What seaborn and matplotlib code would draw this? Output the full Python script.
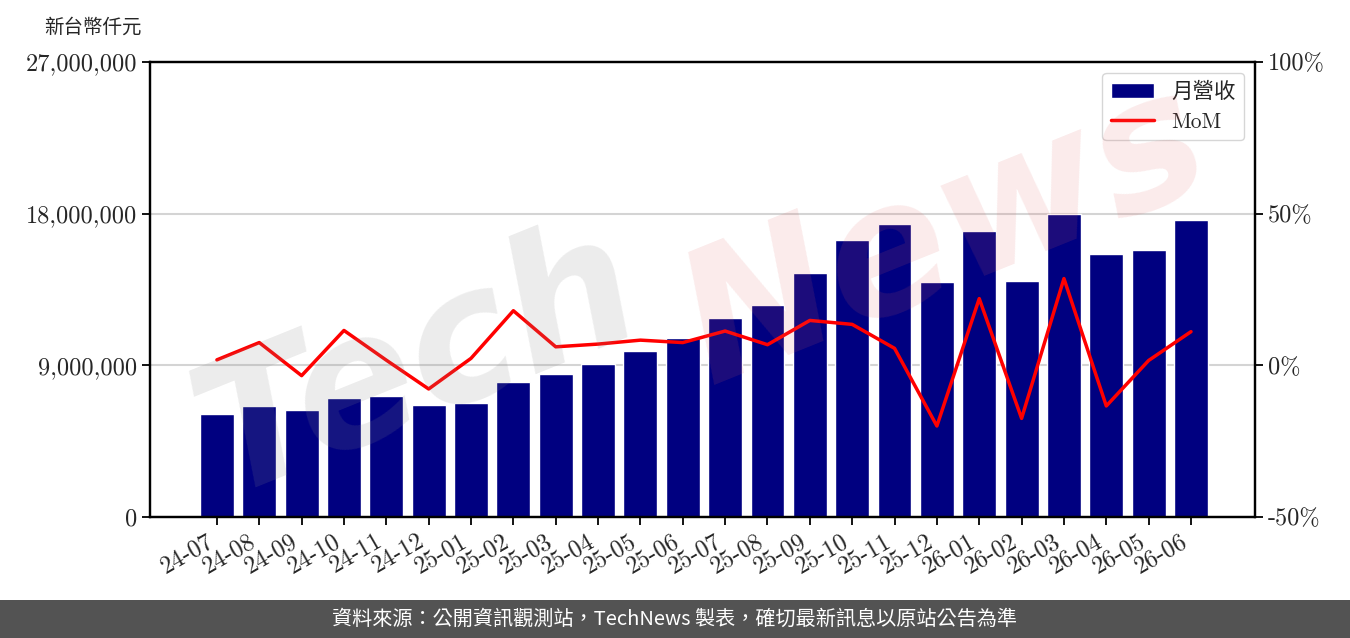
import numpy as np
import pandas as pd
import matplotlib
matplotlib.use("Agg")
import matplotlib.pyplot as plt
from matplotlib.patches import Rectangle
from matplotlib.ticker import FuncFormatter
import seaborn as sns

# data
months = ["24-07", "24-08", "24-09", "24-10", "24-11", "24-12",
          "25-01", "25-02", "25-03", "25-04", "25-05", "25-06",
          "25-07", "25-08", "25-09", "25-10", "25-11", "25-12",
          "26-01", "26-02", "26-03", "26-04", "26-05", "26-06"]
revenue = [6110000, 6590000, 6350000, 7060000, 7180000, 6650000,
           6760000, 8010000, 8490000, 9080000, 9850000, 10620000,
           11810000, 12580000, 14480000, 16440000, 17390000, 13950000,
           16970000, 14000000, 17980000, 15610000, 15840000, 17620000]
mom = [1.8, 7.5, -3.4, 11.5, 1.7, -7.8,
       2.3, 18.0, 6.1, 7.0, 8.3, 7.5,
       11.3, 6.8, 14.8, 13.5, 5.6, -20.0,
       22.0, -17.5, 28.6, -13.4, 1.6, 11.1]

df = pd.DataFrame({"month": months, "revenue": revenue, "mom": mom})
df["idx"] = np.arange(len(df))

sns.set_style("white")
plt.rcParams["font.family"] = ["cmr10", "Noto Sans CJK TC"]
plt.rcParams["axes.unicode_minus"] = False
plt.rcParams["axes.formatter.use_mathtext"] = True

fig = plt.figure(figsize=(13.5, 6.38), dpi=100)
ax = fig.add_axes([0.1111, 0.1897, 0.8185, 0.7131])

sns.barplot(data=df, x="month", y="revenue", color="#000080", saturation=1,
            width=0.8, label="月營收", ax=ax, zorder=2)
ax.set_xlim(-1.58, 24.51)
ax.set_ylim(0, 27000000)
ax.set_yticks([0, 9000000, 18000000, 27000000])
ax.yaxis.set_major_formatter(FuncFormatter(lambda v, p: f"{int(v):,}"))
ax.grid(axis="y", color="#d4d4d4", linewidth=1.5, zorder=0)
ax.set_axisbelow(True)
ax.set_xlabel("")
ax.set_ylabel("")
ax.tick_params(axis="both", labelsize=17.5, length=6, width=1.3,
               direction="out", color="black", bottom=True, left=True)
plt.setp(ax.get_xticklabels(), rotation=30, ha="right")
for s in ax.spines.values():
    s.set_linewidth(1.6)
    s.set_color("black")

ax2 = ax.twinx()
sns.lineplot(data=df, x="idx", y="mom", color="red", linewidth=2.5,
             label="MoM", ax=ax2, zorder=3)
ax2.set_ylim(-50, 100)
ax2.set_yticks([-50, 0, 50, 100])
ax2.yaxis.set_major_formatter(FuncFormatter(lambda v, p: f"{int(v)}%"))
ax2.set_ylabel("")
ax2.tick_params(axis="y", labelsize=17.5, length=6, width=1.3, right=True,
                direction="out", color="black")
for s in ax2.spines.values():
    s.set_linewidth(1.6)
    s.set_color("black")

h1, l1 = ax.get_legend_handles_labels()
h2, l2 = ax2.get_legend_handles_labels()
leg = ax2.legend(h1 + h2, l1 + l2, loc="upper right", fontsize=15.5)
if ax.get_legend():
    ax.get_legend().remove()

# watermark
fig.text(0.31, 0.43, "Tech", fontsize=130, color="#8a8a8a", alpha=0.16,
         rotation=22, ha="center", va="center", family="DejaVu Sans",
         style="italic", weight="bold", zorder=10)
fig.text(0.70, 0.63, "News", fontsize=130, color="#e06060", alpha=0.13,
         rotation=22, ha="center", va="center", family="DejaVu Sans",
         style="italic", weight="bold", zorder=10)

# unit label
fig.text(0.0326, 0.957, "新台幣仟元", fontsize=14, ha="left", va="center",
         family=["Noto Sans CJK TC"])

# footer band
fig.patches.append(Rectangle((0, 0), 1, 38 / 638, transform=fig.transFigure,
                             facecolor="#535353", edgecolor="none", zorder=0))
fig.text(0.5, 19 / 638, "資料來源：公開資訊觀測站，TechNews 製表，確切最新訊息以原站公告為準",
         color="white", fontsize=14.5, ha="center", va="center",
         family=["Noto Sans CJK TC"])

fig.savefig("out.png", dpi=100)
